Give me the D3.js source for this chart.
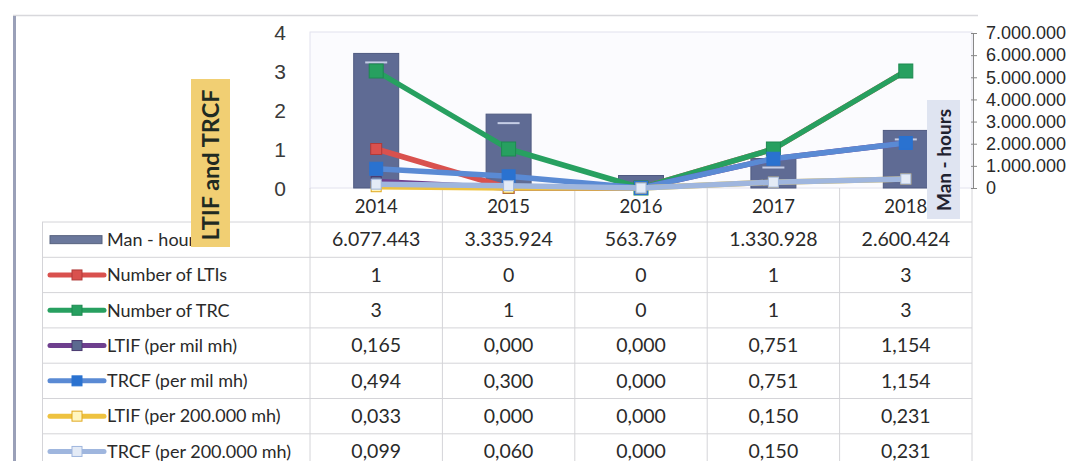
<!DOCTYPE html>
<html><head><meta charset="utf-8">
<script src="https://cdn.jsdelivr.net/npm/d3@7"></script>
<style>
html,body{margin:0;padding:0;background:#fff;}
svg{display:block;font-family:Lato, "Open Sans", sans-serif;}
</style></head>
<body><svg id="c" width="1079" height="461"></svg>
<script>
const years = ["2014","2015","2016","2017","2018"];
const manHours = [6077443, 3335924, 563769, 1330928, 2600424];
const numLTIs = [1, 0, 0, 1, 3];
const numTRC = [3, 1, 0, 1, 3];
const ltifMil = [0.165, 0.000, 0.000, 0.751, 1.154];
const trcfMil = [0.494, 0.300, 0.000, 0.751, 1.154];
const ltif200k = [0.033, 0.000, 0.000, 0.150, 0.231];
const trcf200k = [0.099, 0.060, 0.000, 0.150, 0.231];
const leftTicks = [0, 1, 2, 3, 4];
const rightTicks = [0, 1000000, 2000000, 3000000, 4000000, 5000000, 6000000, 7000000];

const loc = d3.formatLocale({decimal: ",", thousands: ".", grouping: [3], currency: ["", ""]});
const fInt = loc.format(",d");
const f3 = loc.format(",.3f");

const lineSeries = [
  {name: "Number of LTIs", values: numLTIs, color: "#d9514e", mfill: "#d9514e", mstroke: "#b03a38", ms: 11, fmt: fInt},
  {name: "Number of TRC", values: numTRC, color: "#27a060", mfill: "#27a060", mstroke: "#1d8a50", ms: 14, fmt: fInt},
  {name: "LTIF (per mil mh)", values: ltifMil, color: "#6e3f8e", mfill: "#5b6a90", mstroke: "#4a3a70", ms: 10, fmt: f3},
  {name: "TRCF (per mil mh)", values: trcfMil, color: "#5a8ad4", mfill: "#2a72d0", mstroke: "#2a72d0", ms: 13, fmt: f3},
  {name: "LTIF (per 200.000 mh)", values: ltif200k, color: "#eec240", mfill: "#fff6c0", mstroke: "#e0a820", ms: 10, fmt: f3},
  {name: "TRCF (per 200.000 mh)", values: trcf200k, color: "#9fb6de", mfill: "#e4ebf6", mstroke: "#9fb6de", ms: 10, fmt: f3}
];

const svg = d3.select("#c");
const plotL = 310, plotR = 972, plotT = 32, plotB = 188;
const x = d3.scaleBand().domain(years).range([plotL, plotR]).padding(0);
const yL = d3.scaleLinear().domain([0, 4]).range([plotB, plotT]);
const yR = d3.scaleLinear().domain([0, 7000000]).range([plotB, 33]);

// outer frame
svg.append("line").attr("x1", 13).attr("x2", 978).attr("y1", 15.5).attr("y2", 15.5).attr("stroke", "#d8d8dc").attr("stroke-width", 1.5);
svg.append("line").attr("x1", 14.5).attr("x2", 14.5).attr("y1", 16).attr("y2", 461).attr("stroke", "#9aa0b8").attr("stroke-width", 3);

// plot area
svg.append("rect").attr("x", plotL).attr("y", plotT).attr("width", plotR - plotL).attr("height", plotB - plotT)
  .attr("fill", "#fbfbfe").attr("stroke", "#e2e2ee").attr("stroke-width", 1);

// table grid
const tableL = 42, tableT = 222, rowH = 35.3;
const nRows = 1 + lineSeries.length;
const g = svg.append("g").attr("stroke", "#d4d4d8").attr("stroke-width", 1);
for (let i = 0; i <= nRows; i++) {
  const yy = tableT + i * rowH;
  if (yy > 461) break;
  g.append("line").attr("x1", tableL).attr("x2", plotR).attr("y1", yy).attr("y2", yy);
}
g.append("line").attr("x1", tableL + 0.5).attr("x2", tableL + 0.5).attr("y1", tableT).attr("y2", 461);
const bounds = years.map(d => x(d)).concat([plotR]);
bounds.forEach(b => g.append("line").attr("x1", b).attr("x2", b).attr("y1", plotB).attr("y2", 461));

// bars (man-hours)
const bw = 45;
svg.append("g").selectAll("rect").data(years).join("rect")
  .attr("x", d => x(d) + x.bandwidth() / 2 - bw / 2)
  .attr("y", (d, i) => yR(manHours[i]))
  .attr("width", bw)
  .attr("height", (d, i) => plotB - yR(manHours[i]))
  .attr("fill", "#5f6b94").attr("stroke", "#4f5a80").attr("stroke-width", 1);
svg.append("g").selectAll("line").data(years).join("line")
  .attr("x1", d => x(d) + x.bandwidth() / 2 - 11)
  .attr("x2", d => x(d) + x.bandwidth() / 2 + 11)
  .attr("y1", (d, i) => yR(manHours[i]) + 9)
  .attr("y2", (d, i) => yR(manHours[i]) + 9)
  .attr("stroke", "#c6cee6").attr("stroke-width", 2)
  .style("display", (d, i) => (plotB - yR(manHours[i]) > 20 ? null : "none"));

// lines
const cx = d => x(d) + x.bandwidth() / 2;
lineSeries.forEach(s => {
  const line = d3.line().x((v, i) => cx(years[i])).y(v => yL(v));
  svg.append("path").datum(s.values).attr("d", line).attr("fill", "none")
    .attr("stroke", s.color).attr("stroke-width", 5.5).attr("stroke-linejoin", "round");
  svg.append("g").selectAll("rect").data(s.values).join("rect")
    .attr("x", (v, i) => cx(years[i]) - s.ms / 2).attr("y", v => yL(v) - s.ms / 2)
    .attr("width", s.ms).attr("height", s.ms)
    .attr("fill", s.mfill).attr("stroke", s.mstroke).attr("stroke-width", 1);
});

// left axis
const axL = svg.append("g").attr("transform", `translate(${plotL - 24},0)`)
  .call(d3.axisLeft(yL).tickValues(leftTicks).tickSize(0).tickFormat(d3.format("d")));
axL.select(".domain").remove();
axL.selectAll("text").attr("font-size", 21).attr("fill", "#3a3a3a").attr("dy", "0.35em").attr("x", 0);

// right axis
const axR = svg.append("g").attr("transform", `translate(${plotR + 1},0)`)
  .call(d3.axisRight(yR).tickValues(rightTicks).tickSizeOuter(0).tickSizeInner(5).tickPadding(8)
    .tickFormat(d => fInt(d)));
axR.select(".domain").attr("stroke", "#888");
axR.selectAll(".tick line").attr("stroke", "#888").attr("x1", -2).attr("x2", 4);
axR.selectAll("text").attr("font-size", 18).attr("fill", "#2a2a2a");

// category labels
svg.append("g").selectAll("text").data(years).join("text")
  .attr("x", d => cx(d)).attr("y", 207).attr("dy", "0.35em").attr("text-anchor", "middle")
  .attr("font-size", 18.5).attr("fill", "#2a2a2a").text(d => d);

// table rows
const rows = [{name: "Man - hours", values: manHours, fmt: fInt, bar: true}].concat(lineSeries);
rows.forEach((r, ri) => {
  const yc = tableT + ri * rowH + rowH / 2;
  // legend key
  if (r.bar) {
    svg.append("rect").attr("x", 50).attr("y", yc - 4).attr("width", 52).attr("height", 8)
      .attr("fill", "#6b789c").attr("stroke", "#56627f").attr("stroke-width", 1);
  } else {
    svg.append("line").attr("x1", 50).attr("x2", 104).attr("y1", yc).attr("y2", yc)
      .attr("stroke", r.color).attr("stroke-width", 5).attr("stroke-linecap", "round");
    svg.append("rect").attr("x", 72).attr("y", yc - 5).attr("width", 10).attr("height", 10)
      .attr("fill", r.mfill).attr("stroke", r.mstroke).attr("stroke-width", 1);
  }
  svg.append("text").attr("x", 107).attr("y", yc).attr("dy", "0.35em")
    .attr("font-size", 18).attr("fill", "#2a2a2a").text(r.name);
  svg.append("g").selectAll("text").data(r.values).join("text")
    .attr("x", (v, i) => cx(years[i])).attr("y", yc).attr("dy", "0.35em").attr("text-anchor", "middle")
    .attr("font-size", 19.5).attr("fill", "#2a2a2a").text(v => r.fmt(v));
});

// left axis title
svg.append("rect").attr("x", 191).attr("y", 79).attr("width", 39).attr("height", 168).attr("fill", "#f1cf73");
svg.append("text").attr("transform", "translate(211,165) rotate(-90)").attr("text-anchor", "middle").attr("dy", "0.35em")
  .attr("font-size", 23.5).attr("font-weight", "bold").attr("fill", "#1f2a22").text("LTIF and TRCF");

// right axis title
svg.append("rect").attr("x", 927).attr("y", 100).attr("width", 33).attr("height", 119).attr("fill", "#dfe4f1");
svg.append("text").attr("transform", "translate(944,160) rotate(-90)").attr("text-anchor", "middle").attr("dy", "0.35em")
  .attr("font-size", 19).attr("font-weight", "bold").attr("fill", "#1f2230").text("Man - hours");
</script></body></html>
